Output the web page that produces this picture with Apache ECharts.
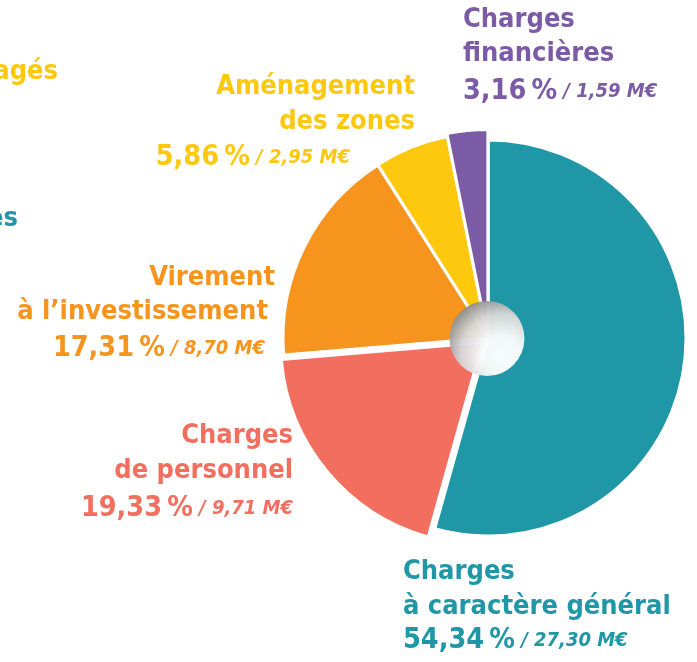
<!DOCTYPE html>
<html>
<head>
<meta charset="utf-8">
<script src="https://cdn.jsdelivr.net/npm/echarts@6/dist/echarts.min.js"></script>
<style>
  html, body { margin: 0; padding: 0; background: #ffffff; }
  #chart { width: 697px; height: 662px; }
</style>
</head>
<body>
<div id="chart"></div>
<script>
// Budget breakdown (share of total, %, and amount, M€)
const categories = ['Charges à caractère général', 'Charges de personnel', 'Virement à l’investissement', 'Aménagement des zones', 'Charges financières'];
const shares = [54.34, 19.33, 17.31, 5.86, 3.16];
const amounts = [27.30, 9.71, 8.70, 2.95, 1.59];
const labelTitles = [
  ['Charges', 'à caractère général'],
  ['Charges', 'de personnel'],
  ['Virement', 'à l’investissement'],
  ['Aménagement', 'des zones'],
  ['Charges', 'financières']
];
const colors = ['#1f97a7', '#f26f60', '#f7941e', '#fec80e', '#7b5ba6'];

// Slice geometry: each slice gets its own outer radius and a small push-out
const sliceRadius = [196.5, 200.5, 203.5, 204, 207];
const sliceOffset = [0, 7, 0, 0, 0];
const CX = 488, CY = 338, GAP = 3.2;

// Label anchor points, one per text line
const labelLayout = [
  { align: 'left',  xs: [403, 403, 403], ys: [572, 607, 641] },
  { align: 'right', xs: [293, 293, 293], ys: [436, 471, 509] },
  { align: 'right', xs: [275, 268, 265], ys: [278, 312, 349] },
  { align: 'right', xs: [415, 415, 350], ys: [87, 122, 158] },
  { align: 'left',  xs: [463, 463, 463], ys: [20, 54, 92] }
];

const FONT = '"DejaVu Sans Condensed", "DejaVu Sans", sans-serif';
const fmt = v => v.toFixed(2).replace('.', ',');

const total = shares.reduce((a, b) => a + b, 0);
let acc = 0;
const series = shares.map((s, i) => {
  const mid = (acc + s / 2) / total * 2 * Math.PI;
  acc += s;
  const cx = CX + sliceOffset[i] * Math.sin(mid);
  const cy = CY - sliceOffset[i] * Math.cos(mid);
  return {
    type: 'pie',
    center: [cx, cy],
    radius: [0, sliceRadius[i] + GAP / 2],
    startAngle: 90,
    clockwise: true,
    silent: true,
    animation: false,
    z: 2 + i,
    label: { show: false },
    labelLine: { show: false },
    emphasis: { disabled: true },
    data: shares.map((v, j) => ({
      name: categories[j],
      value: v,
      itemStyle: j === i
        ? { color: colors[j], borderColor: '#ffffff', borderWidth: GAP }
        : { color: 'rgba(0,0,0,0)', borderWidth: 0 }
    }))
  };
});

function textEl(x, y, text, color, align, rich) {
  const style = {
    text: text, x: x, y: y, fill: color,
    font: 'bold 27px ' + FONT,
    align: align, textAlign: align,
    verticalAlign: 'middle', textVerticalAlign: 'middle'
  };
  if (rich) style.rich = rich;
  return { type: 'text', z: 300, silent: true, style: style };
}

const graphics = [];
shares.forEach((s, i) => {
  const L = labelLayout[i];
  const c = colors[i];
  graphics.push(textEl(L.xs[0], L.ys[0], labelTitles[i][0], c, L.align));
  graphics.push(textEl(L.xs[1], L.ys[1], labelTitles[i][1], c, L.align));
  graphics.push(textEl(L.xs[2], L.ys[2],
    '{p|' + fmt(s) + '\u2009%}{v| / ' + fmt(amounts[i]) + ' M€}', c, L.align, {
      p: { fill: c, font: 'bold 28.5px ' + FONT, verticalAlign: 'middle' },
      v: { fill: c, font: 'italic bold 20px ' + FONT, verticalAlign: 'middle' }
    }));
});

// Neighbouring labels that run off the left edge
graphics.push(textEl(58, 72, 'agés', '#fec80e', 'right'));
graphics.push(textEl(18, 219, 'es', '#1f97a7', 'right'));

// Shaded hub in the middle of the pie
graphics.push({
  type: 'circle', z: 200, silent: true,
  shape: { cx: 487, cy: 338.5, r: 37.5 },
  style: {
    opacity: 0.96,
    fill: {
      type: 'radial', x: 0.7, y: 0.72, r: 0.85,
      colorStops: [
        { offset: 0, color: '#ffffff' },
        { offset: 0.3, color: '#fbfbfb' },
        { offset: 0.65, color: '#d6d6d6' },
        { offset: 1, color: '#7c7c7c' }
      ]
    }
  }
});

const chart = echarts.init(document.getElementById('chart'), null, { renderer: 'canvas' });
chart.setOption({
  backgroundColor: '#ffffff',
  animation: false,
  series: series,
  graphic: { elements: graphics }
});
</script>
</body>
</html>
